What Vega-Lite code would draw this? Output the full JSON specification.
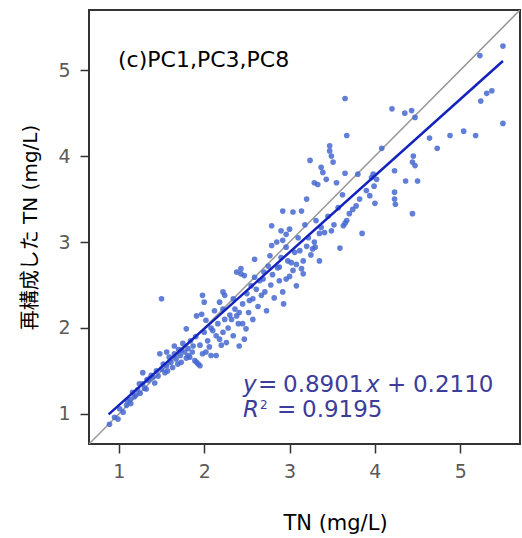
{
  "$schema": "https://vega.github.io/schema/vega-lite/v6.json",
  "width": 431,
  "height": 434,
  "autosize": "none",
  "padding": {"left": 89, "top": 10, "right": 2, "bottom": 94},
  "config": {"view": {"stroke": "#333333", "strokeWidth": 2}, "font": "DejaVu Sans"},
  "datasets": {
    "pts": [
      {"x":0.89,"y":0.88},{"x":0.95,"y":0.96},{"x":0.99,"y":0.94},{"x":1.01,"y":1.06},{"x":1.05,"y":1.02},{"x":1.09,"y":1.10},{"x":1.10,"y":1.15},{"x":1.13,"y":1.17},{"x":1.14,"y":1.12},{"x":1.16,"y":1.25},{"x":1.18,"y":1.20},{"x":1.20,"y":1.22},{"x":1.22,"y":1.28},{"x":1.24,"y":1.35},{"x":1.25,"y":1.24},{"x":1.28,"y":1.48},{"x":1.28,"y":1.35},{"x":1.30,"y":1.30},{"x":1.32,"y":1.29},{"x":1.33,"y":1.40},{"x":1.34,"y":1.39},{"x":1.36,"y":1.41},{"x":1.38,"y":1.45},{"x":1.40,"y":1.43},{"x":1.42,"y":1.36},{"x":1.44,"y":1.50},{"x":1.46,"y":1.44},{"x":1.48,"y":1.70},{"x":1.50,"y":1.52},{"x":1.50,"y":2.34},{"x":1.52,"y":1.58},{"x":1.54,"y":1.48},{"x":1.56,"y":1.56},{"x":1.56,"y":1.72},{"x":1.57,"y":1.50},{"x":1.59,"y":1.66},{"x":1.61,"y":1.60},{"x":1.63,"y":1.54},{"x":1.65,"y":1.79},{"x":1.65,"y":1.70},{"x":1.67,"y":1.64},{"x":1.69,"y":1.58},{"x":1.70,"y":1.75},{"x":1.72,"y":1.68},{"x":1.73,"y":1.74},{"x":1.73,"y":1.60},{"x":1.75,"y":1.82},{"x":1.77,"y":1.72},{"x":1.79,"y":1.99},{"x":1.79,"y":1.65},{"x":1.81,"y":1.76},{"x":1.81,"y":1.68},{"x":1.83,"y":1.66},{"x":1.84,"y":1.85},{"x":1.86,"y":1.72},{"x":1.87,"y":1.79},{"x":1.89,"y":1.62},{"x":1.90,"y":1.90},{"x":1.91,"y":1.60},{"x":1.91,"y":2.14},{"x":1.93,"y":1.58},{"x":1.95,"y":1.56},{"x":1.95,"y":1.80},{"x":1.97,"y":2.16},{"x":1.98,"y":2.38},{"x":1.98,"y":1.70},{"x":2.00,"y":2.30},{"x":2.00,"y":1.95},{"x":2.02,"y":2.09},{"x":2.02,"y":1.72},{"x":2.04,"y":1.85},{"x":2.06,"y":1.78},{"x":2.08,"y":1.68},{"x":2.08,"y":2.00},{"x":2.10,"y":1.97},{"x":2.12,"y":2.20},{"x":2.14,"y":1.91},{"x":2.14,"y":1.68},{"x":2.16,"y":2.05},{"x":2.18,"y":1.87},{"x":2.18,"y":2.30},{"x":2.20,"y":1.80},{"x":2.22,"y":1.95},{"x":2.22,"y":2.42},{"x":2.22,"y":2.22},{"x":2.24,"y":2.38},{"x":2.24,"y":2.10},{"x":2.26,"y":1.83},{"x":2.28,"y":2.00},{"x":2.30,"y":2.15},{"x":2.32,"y":2.10},{"x":2.34,"y":1.91},{"x":2.34,"y":2.34},{"x":2.36,"y":2.22},{"x":2.38,"y":2.14},{"x":2.38,"y":2.65},{"x":2.40,"y":2.05},{"x":2.41,"y":2.18},{"x":2.41,"y":1.79},{"x":2.43,"y":2.69},{"x":2.43,"y":2.63},{"x":2.45,"y":2.05},{"x":2.45,"y":2.28},{"x":2.47,"y":1.87},{"x":2.47,"y":2.61},{"x":2.49,"y":1.99},{"x":2.50,"y":2.40},{"x":2.52,"y":2.18},{"x":2.53,"y":2.32},{"x":2.55,"y":2.49},{"x":2.57,"y":2.34},{"x":2.57,"y":2.10},{"x":2.59,"y":2.80},{"x":2.59,"y":2.59},{"x":2.61,"y":2.45},{"x":2.63,"y":2.25},{"x":2.65,"y":2.55},{"x":2.67,"y":2.38},{"x":2.69,"y":2.57},{"x":2.70,"y":2.65},{"x":2.71,"y":2.42},{"x":2.73,"y":2.20},{"x":2.75,"y":2.72},{"x":2.77,"y":2.84},{"x":2.78,"y":2.50},{"x":2.79,"y":2.96},{"x":2.79,"y":3.19},{"x":2.80,"y":2.62},{"x":2.82,"y":2.35},{"x":2.85,"y":3.00},{"x":2.86,"y":2.70},{"x":2.88,"y":2.71},{"x":2.88,"y":2.55},{"x":2.90,"y":3.13},{"x":2.90,"y":2.82},{"x":2.92,"y":3.36},{"x":2.92,"y":3.02},{"x":2.92,"y":2.42},{"x":2.93,"y":2.28},{"x":2.96,"y":3.09},{"x":2.96,"y":2.94},{"x":2.96,"y":2.57},{"x":2.98,"y":2.78},{"x":3.00,"y":3.15},{"x":3.00,"y":2.60},{"x":3.02,"y":2.76},{"x":3.04,"y":3.35},{"x":3.04,"y":2.67},{"x":3.06,"y":2.88},{"x":3.08,"y":2.74},{"x":3.08,"y":2.49},{"x":3.10,"y":3.05},{"x":3.12,"y":2.90},{"x":3.14,"y":3.36},{"x":3.14,"y":2.69},{"x":3.16,"y":2.63},{"x":3.16,"y":2.78},{"x":3.18,"y":3.20},{"x":3.20,"y":3.50},{"x":3.20,"y":2.95},{"x":3.22,"y":3.05},{"x":3.24,"y":3.95},{"x":3.25,"y":2.85},{"x":3.27,"y":2.92},{"x":3.29,"y":3.69},{"x":3.29,"y":3.00},{"x":3.30,"y":2.94},{"x":3.31,"y":3.25},{"x":3.33,"y":3.67},{"x":3.35,"y":2.78},{"x":3.35,"y":3.10},{"x":3.37,"y":3.87},{"x":3.37,"y":3.17},{"x":3.39,"y":3.81},{"x":3.41,"y":3.11},{"x":3.43,"y":3.73},{"x":3.45,"y":3.30},{"x":3.47,"y":4.12},{"x":3.47,"y":4.06},{"x":3.49,"y":4.00},{"x":3.49,"y":3.13},{"x":3.51,"y":3.93},{"x":3.52,"y":3.20},{"x":3.55,"y":3.69},{"x":3.57,"y":3.40},{"x":3.59,"y":2.93},{"x":3.62,"y":3.55},{"x":3.63,"y":3.19},{"x":3.65,"y":4.67},{"x":3.65,"y":3.80},{"x":3.65,"y":3.22},{"x":3.67,"y":4.24},{"x":3.67,"y":3.25},{"x":3.70,"y":3.33},{"x":3.74,"y":3.38},{"x":3.78,"y":3.42},{"x":3.80,"y":3.79},{"x":3.82,"y":3.50},{"x":3.85,"y":3.10},{"x":3.90,"y":3.60},{"x":3.94,"y":3.54},{"x":3.96,"y":3.75},{"x":3.98,"y":3.79},{"x":3.99,"y":3.65},{"x":4.00,"y":3.45},{"x":4.02,"y":3.73},{"x":4.08,"y":4.09},{"x":4.20,"y":4.55},{"x":4.23,"y":3.83},{"x":4.23,"y":3.58},{"x":4.23,"y":3.50},{"x":4.24,"y":3.44},{"x":4.35,"y":4.50},{"x":4.36,"y":3.71},{"x":4.43,"y":4.53},{"x":4.44,"y":3.33},{"x":4.44,"y":3.93},{"x":4.45,"y":4.00},{"x":4.47,"y":4.45},{"x":4.47,"y":3.89},{"x":4.50,"y":3.71},{"x":4.64,"y":4.21},{"x":4.73,"y":4.09},{"x":4.88,"y":4.24},{"x":5.04,"y":4.29},{"x":5.18,"y":4.24},{"x":5.23,"y":5.17},{"x":5.24,"y":4.64},{"x":5.31,"y":4.73},{"x":5.37,"y":4.76},{"x":5.50,"y":5.28},{"x":5.50,"y":4.38}
    ]
  },
  "encoding": {
    "x": {"field": "x", "type": "quantitative",
      "scale": {"domain": [0.65, 5.7], "nice": false, "zero": false},
      "axis": {"values": [1,2,3,4,5], "grid": false, "domain": false, "title": "TN (mg/L)",
        "titleFontSize": 21, "titleFontWeight": "normal", "titleColor": "#000000", "titleX": 246, "titleY": 79, "titleBaseline": "middle", "titleAlign": "center",
        "labelFontSize": 19, "labelColor": "#5a5a5a", "labelPadding": 9, "tickColor": "#333333", "tickSize": 9, "tickWidth": 1.5}},
    "y": {"field": "y", "type": "quantitative",
      "scale": {"domain": [0.65, 5.7], "nice": false, "zero": false},
      "axis": {"values": [1,2,3,4,5], "grid": false, "domain": false, "title": "再構成した TN (mg/L)",
        "titleFont": "DejaVu Sans, Noto Sans CJK JP", "titleFontSize": 20, "titleFontWeight": "normal", "titleColor": "#000000", "titleX": -59, "titleY": 217, "titleBaseline": "middle", "titleAlign": "center",
        "labelFontSize": 19, "labelColor": "#5a5a5a", "labelPadding": 10, "tickColor": "#333333", "tickSize": 9, "tickWidth": 1.5}}
  },
  "layer": [
    {"data": {"values": [{"x": 0.65, "y": 0.65}, {"x": 5.7, "y": 5.7}]},
     "mark": {"type": "line", "color": "#999999", "strokeWidth": 1.5, "clip": true}},
    {"data": {"name": "pts"},
     "mark": {"type": "circle", "size": 32, "color": "#4668d0", "opacity": 0.85}},
    {"data": {"values": [{"x": 0.88, "y": 0.9943}, {"x": 5.5, "y": 5.1066}]},
     "mark": {"type": "line", "color": "#1422bd", "strokeWidth": 2.5}},
    {"data": {"values": [{"t": "(c)PC1,PC3,PC8", "x": 0.99, "y": 5.118}]},
     "mark": {"type": "text", "align": "left", "baseline": "middle", "fontSize": 22, "color": "#000000"},
     "encoding": {"text": {"field": "t"}}},
    {"data": {"values": [{"t": "y", "x": 2.454, "y": 1.336}, {"t": "x", "x": 3.895, "y": 1.336}, {"t": "R", "x": 2.454, "y": 1.04}]},
     "mark": {"type": "text", "align": "left", "baseline": "middle", "fontSize": 23, "fontStyle": "italic", "color": "#3c3c9c"},
     "encoding": {"text": {"field": "t"}}},
    {"data": {"values": [{"t": "=", "x": 2.63, "y": 1.336}, {"t": "0.8901", "x": 2.923, "y": 1.336}, {"t": "+", "x": 4.142, "y": 1.336}, {"t": "0.2110", "x": 4.446, "y": 1.336}, {"t": "=", "x": 2.853, "y": 1.04}, {"t": "0.9195", "x": 3.146, "y": 1.04}]},
     "mark": {"type": "text", "align": "left", "baseline": "middle", "fontSize": 23, "color": "#3c3c9c"},
     "encoding": {"text": {"field": "t"}}},
    {"data": {"values": [{"t": "2", "x": 2.655, "y": 1.1}]},
     "mark": {"type": "text", "align": "left", "baseline": "middle", "fontSize": 12, "color": "#3c3c9c"},
     "encoding": {"text": {"field": "t"}}}
  ]
}
